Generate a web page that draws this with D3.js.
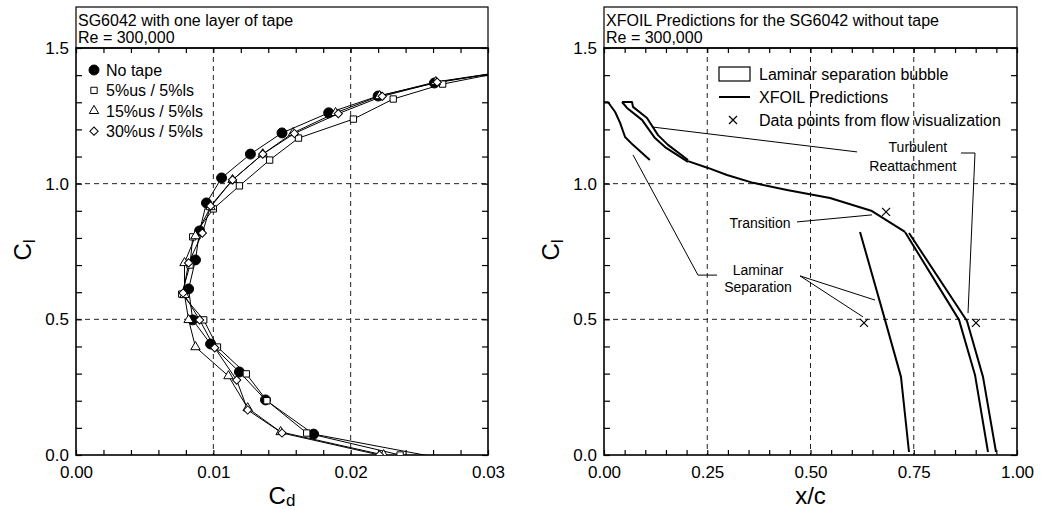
<!DOCTYPE html>
<html>
<head>
<meta charset="utf-8">
<script src="https://cdn.jsdelivr.net/npm/d3@7"></script>
<style>
body { margin: 0; background: #fff; }
text { font-family: "Liberation Sans", Arial, Helvetica, sans-serif; fill: #000; }
</style>
</head>
<body>
<div id="chart"></div>
<script>
// ---- left panel: Cl vs Cd, SG6042 with tape ----
var noTapeCd = [0.0285, 0.0173, 0.0138, 0.0119, 0.0098, 0.0085, 0.0082, 0.0087, 0.0090, 0.0095, 0.0106, 0.0127, 0.0150, 0.0184, 0.0220, 0.0261, 0.0315];
var noTapeCl = [-0.03, 0.077, 0.203, 0.306, 0.409, 0.498, 0.612, 0.719, 0.826, 0.929, 1.021, 1.109, 1.187, 1.261, 1.323, 1.371, 1.415];

var tape5Cd = [0.0236, 0.0168, 0.0139, 0.0124, 0.0103, 0.0093, 0.0077, 0.0083, 0.0085, 0.0100, 0.0119, 0.0141, 0.0162, 0.0202, 0.0231, 0.0267, 0.0315];
var tape5Cl = [0.0, 0.081, 0.200, 0.299, 0.398, 0.498, 0.593, 0.700, 0.804, 0.907, 0.992, 1.087, 1.168, 1.238, 1.312, 1.367, 1.415];

var tape15Cd = [0.0224, 0.0149, 0.0125, 0.0111, 0.0087, 0.0082, 0.0079, 0.0079, 0.0087, 0.0098, 0.0114, 0.0136, 0.0158, 0.0189, 0.0221, 0.0262, 0.0315];
var tape15Cl = [0.0, 0.085, 0.173, 0.291, 0.398, 0.498, 0.590, 0.708, 0.807, 0.914, 1.014, 1.109, 1.187, 1.261, 1.323, 1.375, 1.415];

var tape30Cd = [0.0221, 0.0150, 0.0125, 0.0117, 0.0101, 0.0090, 0.0078, 0.0082, 0.0092, 0.0098, 0.0114, 0.0136, 0.0159, 0.0191, 0.0223, 0.0263, 0.0315];
var tape30Cl = [0.0, 0.081, 0.166, 0.276, 0.395, 0.498, 0.597, 0.708, 0.818, 0.918, 1.014, 1.109, 1.185, 1.258, 1.322, 1.374, 1.415];

var seriesNames = ["No tape", "5%us / 5%ls", "15%us / 5%ls", "30%us / 5%ls"];

var cdTicks = [0, 0.01, 0.02, 0.03];
var clTicks = [0, 0.5, 1.0, 1.5];

// ---- right panel: XFOIL predictions, x/c vs Cl ----
var sepLeXc = [0.0, 0.010, 0.027, 0.039, 0.051, 0.070, 0.111];
var sepLeCl = [1.30, 1.30, 1.264, 1.224, 1.172, 1.143, 1.087];

var bubOuterXc = [0.0436, 0.0557, 0.092, 0.1235, 0.1477, 0.2034];
var bubOuterCl = [1.301, 1.279, 1.235, 1.168, 1.135, 1.080];
var bubInnerXc = [0.0436, 0.0678, 0.0702, 0.1041, 0.1308, 0.155, 0.2034];
var bubInnerCl = [1.301, 1.301, 1.283, 1.242, 1.179, 1.143, 1.087];

var transXc = [0.2034, 0.2518, 0.2978, 0.3608, 0.4431, 0.5472, 0.6489, 0.7288];
var transCl = [1.083, 1.058, 1.032, 1.003, 0.977, 0.947, 0.899, 0.822];

var reattAXc = [0.7288, 0.8596, 0.8983, 0.9298];
var reattACl = [0.822, 0.498, 0.295, 0.011];
var reattBXc = [0.7385, 0.8789, 0.9177, 0.9492];
var reattBCl = [0.818, 0.494, 0.288, 0.011];

var sepTeXc = [0.6199, 0.6804, 0.7191, 0.7385];
var sepTeCl = [0.822, 0.498, 0.288, 0.011];

var flowVisXc = [0.683, 0.6295, 0.9007];
var flowVisCl = [0.896, 0.487, 0.487];

var xcTicks = [0, 0.25, 0.5, 0.75, 1.0];

function zip(a, b) { return a.map(function(v, i) { return [v, b[i]]; }); }

var svg = d3.select("#chart").append("svg")
	.attr("width", 1042)
	.attr("height", 510);

var yMinor = d3.range(0, 16).map(function(i) { return i / 10; });

function makePanel(o) {
	var x = d3.scaleLinear().domain(o.xDomain).range([o.left, o.right]);
	var y = d3.scaleLinear().domain([0, 1.5]).range([o.bottom, o.top]);
	var g = svg.append("g");

	// title box
	g.append("rect")
		.attr("x", o.left).attr("y", 7)
		.attr("width", o.right - o.left).attr("height", o.top - 7)
		.attr("fill", "none").attr("stroke", "#000").attr("stroke-width", 1.2);
	o.title.forEach(function(t, i) {
		g.append("text")
			.attr("x", o.left + 2).attr("y", 26 + i * 17)
			.style("font-size", "16px")
			.text(t);
	});

	// dashed grid
	g.selectAll(".gx").data(o.xGrid).enter().append("line")
		.attr("x1", function(d) { return x(d); }).attr("x2", function(d) { return x(d); })
		.attr("y1", o.top).attr("y2", o.bottom)
		.attr("stroke", "#222").attr("stroke-width", 1).attr("stroke-dasharray", "5,4");
	g.selectAll(".gy").data([0.5, 1.0]).enter().append("line")
		.attr("x1", o.left).attr("x2", o.right)
		.attr("y1", function(d) { return y(d); }).attr("y2", function(d) { return y(d); })
		.attr("stroke", "#222").attr("stroke-width", 1).attr("stroke-dasharray", "5,4");

	// inward minor ticks on all four sides
	function clean(sel) { sel.select(".domain").remove(); sel.selectAll("line").attr("stroke-width", 1.2); }
	g.append("g").attr("transform", "translate(0," + o.bottom + ")")
		.call(d3.axisBottom(x).tickValues(o.xMinor).tickSize(-5).tickFormat("")).call(clean);
	g.append("g").attr("transform", "translate(0," + o.top + ")")
		.call(d3.axisTop(x).tickValues(o.xMinor).tickSize(-5).tickFormat("")).call(clean);
	g.append("g").attr("transform", "translate(" + o.left + ",0)")
		.call(d3.axisLeft(y).tickValues(yMinor).tickSize(-6).tickFormat("")).call(clean);
	g.append("g").attr("transform", "translate(" + o.right + ",0)")
		.call(d3.axisRight(y).tickValues(yMinor).tickSize(-6).tickFormat("")).call(clean);

	// tick labels
	var xa = g.append("g").attr("transform", "translate(0," + o.bottom + ")")
		.call(d3.axisBottom(x).tickValues(o.xTicks).tickSize(0).tickPadding(11).tickFormat(d3.format(".2f")));
	xa.select(".domain").remove();
	xa.attr("font-size", null).attr("font-family", null).selectAll("text").style("font-size", "17px");
	var ya = g.append("g").attr("transform", "translate(" + o.left + ",0)")
		.call(d3.axisLeft(y).tickValues(clTicks).tickSize(0).tickPadding(7).tickFormat(d3.format(".1f")));
	ya.select(".domain").remove();
	ya.attr("font-size", null).attr("font-family", null).selectAll("text").style("font-size", "17px");

	// frame
	g.append("rect")
		.attr("x", o.left).attr("y", o.top)
		.attr("width", o.right - o.left).attr("height", o.bottom - o.top)
		.attr("fill", "none").attr("stroke", "#000").attr("stroke-width", 1.6);

	// axis titles
	var xt = g.append("text")
		.attr("x", (o.left + o.right) / 2).attr("y", 504)
		.attr("text-anchor", "middle").style("font-size", "24px");
	xt.append("tspan").text(o.xLabel);
	if (o.xSub) xt.append("tspan").attr("dy", 2).style("font-size", "17px").text(o.xSub);

	var yt = g.append("text")
		.attr("transform", "translate(" + (o.left - 45) + ",250) rotate(-90)")
		.attr("text-anchor", "middle").style("font-size", "24px");
	yt.append("tspan").text("C");
	yt.append("tspan").attr("dy", 4).style("font-size", "17px").text("l");

	// clip for data
	svg.append("clipPath").attr("id", o.id)
		.append("rect")
		.attr("x", o.left).attr("y", o.top)
		.attr("width", o.right - o.left).attr("height", o.bottom - o.top);
	var plot = g.append("g").attr("clip-path", "url(#" + o.id + ")");

	return { x: x, y: y, g: g, plot: plot };
}

// ----- left chart -----
var left = makePanel({
	id: "clipL", left: 76, right: 488, top: 48, bottom: 455,
	xDomain: [0, 0.03], xTicks: cdTicks, xGrid: [0.01, 0.02],
	xMinor: d3.range(0, 16).map(function(i) { return i * 0.002; }),
	title: ["SG6042 with one layer of tape", "Re = 300,000"],
	xLabel: "C", xSub: "d"
});

var symCircle = d3.symbol().type(d3.symbolCircle).size(78);
var symSquare = d3.symbol().type(d3.symbolSquare).size(40);
var symTri = d3.symbol().type(d3.symbolTriangle).size(38);
var symDia = d3.symbol().type(d3.symbolSquare).size(34);

var leftSeries = [
	{ pts: zip(noTapeCd, noTapeCl), sym: symCircle, fill: "#000", rot: 0 },
	{ pts: zip(tape5Cd, tape5Cl), sym: symSquare, fill: "#fff", rot: 0 },
	{ pts: zip(tape15Cd, tape15Cl), sym: symTri, fill: "#fff", rot: 0 },
	{ pts: zip(tape30Cd, tape30Cl), sym: symDia, fill: "#fff", rot: 45 }
];

var lineL = d3.line()
	.x(function(d) { return left.x(d[0]); })
	.y(function(d) { return left.y(d[1]); });

leftSeries.forEach(function(s) {
	left.plot.append("path")
		.attr("d", lineL(s.pts))
		.attr("fill", "none").attr("stroke", "#000").attr("stroke-width", 1);
});
leftSeries.forEach(function(s) {
	left.plot.selectAll(null).data(s.pts).enter().append("path")
		.attr("d", s.sym)
		.attr("transform", function(d) { return "translate(" + left.x(d[0]) + "," + left.y(d[1]) + ") rotate(" + s.rot + ")"; })
		.attr("fill", s.fill).attr("stroke", "#000").attr("stroke-width", 1);
});

// legend (left)
var legL = left.g.append("g");
leftSeries.forEach(function(s, i) {
	var cy = 70 + i * 20.4;
	legL.append("path")
		.attr("d", s.sym)
		.attr("transform", "translate(94," + cy + ") rotate(" + s.rot + ")")
		.attr("fill", s.fill).attr("stroke", "#000").attr("stroke-width", 1);
	legL.append("text")
		.attr("x", 106).attr("y", cy).attr("dy", "0.36em")
		.style("font-size", "16px")
		.text(seriesNames[i]);
});

// ----- right chart -----
var right = makePanel({
	id: "clipR", left: 604, right: 1017, top: 48, bottom: 455,
	xDomain: [0, 1], xTicks: xcTicks, xGrid: [0.25, 0.5, 0.75],
	xMinor: d3.range(0, 21).map(function(i) { return i * 0.05; }),
	title: ["XFOIL Predictions for the SG6042 without tape", "Re = 300,000"],
	xLabel: "x/c"
});

var lineR = d3.line()
	.x(function(d) { return right.x(d[0]); })
	.y(function(d) { return right.y(d[1]); });

var xfoilLines = [
	zip(sepLeXc, sepLeCl),
	zip(bubOuterXc, bubOuterCl),
	zip(bubInnerXc, bubInnerCl),
	zip(transXc, transCl),
	zip(reattAXc, reattACl),
	zip(reattBXc, reattBCl),
	zip(sepTeXc, sepTeCl)
];
right.plot.selectAll(".xf").data(xfoilLines).enter().append("path")
	.attr("d", lineR)
	.attr("fill", "none").attr("stroke", "#000").attr("stroke-width", 2)
	.attr("stroke-linejoin", "round");

var crossPath = "M-4,-4L4,4M-4,4L4,-4";
right.plot.selectAll(".fv").data(zip(flowVisXc, flowVisCl)).enter().append("path")
	.attr("d", crossPath)
	.attr("transform", function(d) { return "translate(" + right.x(d[0]) + "," + right.y(d[1]) + ")"; })
	.attr("stroke", "#000").attr("stroke-width", 1.2).attr("fill", "none");

// annotation leaders (data coords)
var leaders = [
	[[0.116, 1.209], [0.6126, 1.117]],
	[[0.8644, 1.113], [0.8983, 1.113], [0.8814, 0.523]],
	[[0.4673, 0.859], [0.6489, 0.885]],
	[[0.0702, 1.106], [0.2276, 0.663], [0.2736, 0.663]],
	[[0.6562, 0.571], [0.4746, 0.660], [0.6271, 0.509]]
];
right.g.selectAll(".ld").data(leaders).enter().append("path")
	.attr("d", lineR)
	.attr("fill", "none").attr("stroke", "#000").attr("stroke-width", 1);

var notes = [
	{ t: "Turbulent", x: 0.760, y: 1.135 },
	{ t: "Reattachment", x: 0.748, y: 1.065 },
	{ t: "Transition", x: 0.3777, y: 0.855 },
	{ t: "Laminar", x: 0.373, y: 0.682 },
	{ t: "Separation", x: 0.373, y: 0.619 }
];
right.g.selectAll(".nt").data(notes).enter().append("text")
	.attr("x", function(d) { return right.x(d.x); })
	.attr("y", function(d) { return right.y(d.y); })
	.attr("dy", "0.36em")
	.attr("text-anchor", "middle")
	.style("font-size", "14px")
	.text(function(d) { return d.t; });

// legend (right)
var legR = right.g.append("g");
legR.append("rect").attr("x", 719).attr("y", 67).attr("width", 31).attr("height", 14)
	.attr("fill", "#fff").attr("stroke", "#000").attr("stroke-width", 1.2);
legR.append("line").attr("x1", 719).attr("x2", 750).attr("y1", 97).attr("y2", 97)
	.attr("stroke", "#000").attr("stroke-width", 2);
legR.append("path").attr("d", crossPath).attr("transform", "translate(733,120)")
	.attr("stroke", "#000").attr("stroke-width", 1.2);
[["Laminar separation bubble", 74], ["XFOIL Predictions", 97], ["Data points from flow visualization", 120]]
	.forEach(function(r) {
		legR.append("text").attr("x", 759).attr("y", r[1]).attr("dy", "0.36em")
			.style("font-size", "16px").text(r[0]);
	});
</script>
</body>
</html>
